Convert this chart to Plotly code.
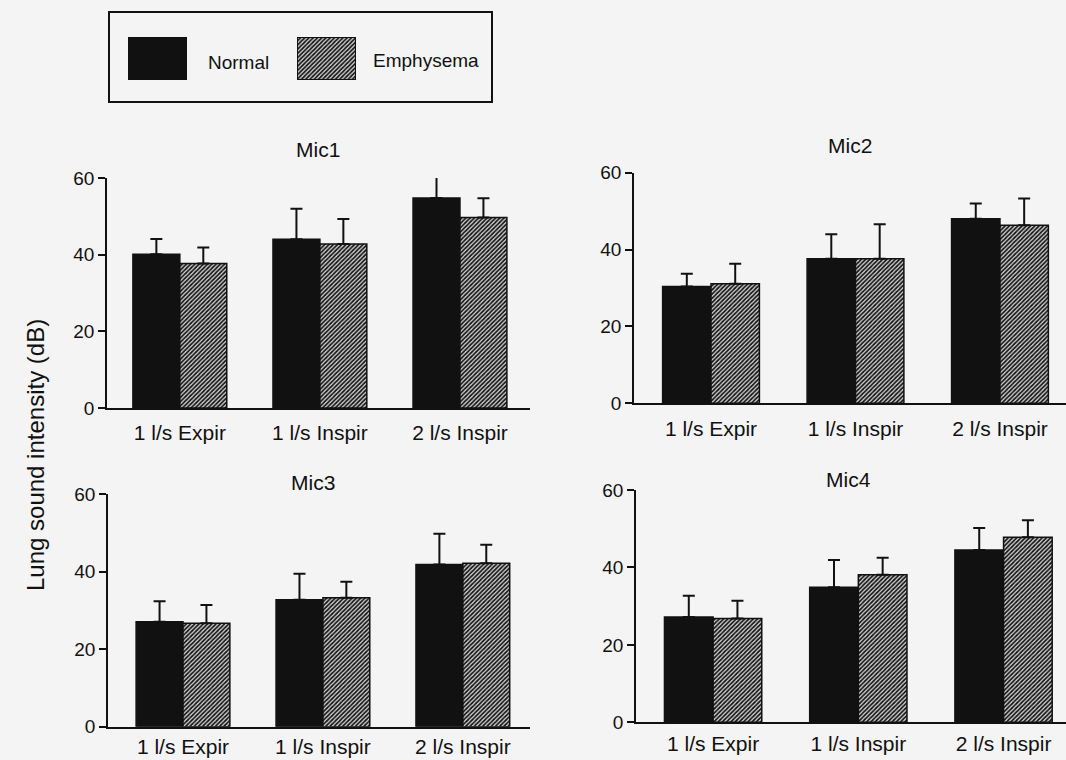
import plotly.graph_objects as go

W, H = 1066, 760

categories = ["1 l/s Expir", "1 l/s Inspir", "2 l/s Inspir"]
series = ["Normal", "Emphysema"]
panels = ["Mic1", "Mic2", "Mic3", "Mic4"]
y_ticks = [0, 20, 40, 60]

mic1_normal = [40.1, 44.0, 54.8]
mic1_normal_err = [4.0, 8.0, 6.1]
mic1_emph = [37.7, 42.8, 49.7]
mic1_emph_err = [4.2, 6.5, 5.0]

mic2_normal = [30.4, 37.6, 48.0]
mic2_normal_err = [3.3, 6.4, 4.0]
mic2_emph = [31.1, 37.6, 46.3]
mic2_emph_err = [5.2, 9.0, 7.0]

mic3_normal = [27.1, 32.8, 41.9]
mic3_normal_err = [5.3, 6.7, 7.9]
mic3_emph = [26.7, 33.3, 42.2]
mic3_emph_err = [4.7, 4.1, 4.8]

mic4_normal = [27.2, 34.9, 44.5]
mic4_normal_err = [5.5, 7.0, 5.7]
mic4_emph = [26.8, 38.1, 47.8]
mic4_emph_err = [4.6, 4.4, 4.4]

legend_swatch_value = [1]

data = [
    (mic1_normal, mic1_normal_err, mic1_emph, mic1_emph_err),
    (mic2_normal, mic2_normal_err, mic2_emph, mic2_emph_err),
    (mic3_normal, mic3_normal_err, mic3_emph, mic3_emph_err),
    (mic4_normal, mic4_normal_err, mic4_emph, mic4_emph_err),
]

# layout in pixels: (x_left, x_right, y_zero_px, y_sixty_px, x_range, label standoff)
panel_px = [
    (107, 530, 408, 178, [-0.52, 2.5], 5),
    (634, 1066, 403.3, 172.7, [-0.533, 2.457], 6),
    (108, 530, 726.7, 494.3, [-0.536, 2.48], 0),
    (636, 1066, 722.3, 490, [-0.531, 2.43], 2),
]
title_px = [(318, 149), (850, 145), (313, 482), (848, 479)]

FONT = "Liberation Sans, Arial, Helvetica, sans-serif"
BLACK = "#111111"
HBG = "#d4d4d4"
hatch = dict(shape="/", size=3, solidity=0.55, fgcolor="#111111", bgcolor=HBG)

fig = go.Figure()
xs = [0, 1, 2]

for i, (n, ne, e, ee) in enumerate(data):
    ax = "" if i == 0 else str(i + 1)
    fig.add_trace(go.Bar(
        x=xs, y=n, name=series[0], xaxis="x" + ax, yaxis="y" + ax,
        marker=dict(color=BLACK, line=dict(color=BLACK, width=1.5)),
        error_y=dict(type="data", symmetric=False, array=ne, arrayminus=[0, 0, 0],
                     color=BLACK, thickness=2, width=6),
        cliponaxis=False, showlegend=False, offsetgroup="n",
    ))
    fig.add_trace(go.Bar(
        x=xs, y=e, name=series[1], xaxis="x" + ax, yaxis="y" + ax,
        marker=dict(color=HBG, pattern=hatch, line=dict(color=BLACK, width=1.5)),
        error_y=dict(type="data", symmetric=False, array=ee, arrayminus=[0, 0, 0],
                     color=BLACK, thickness=2, width=6),
        cliponaxis=False, showlegend=False, offsetgroup="e",
    ))

layout = dict(
    template="none",
    width=W, height=H, autosize=False,
    margin=dict(l=0, r=0, t=0, b=0, pad=0),
    paper_bgcolor="#f4f4f4", plot_bgcolor="rgba(0,0,0,0)",
    barmode="group", bargap=0.33, bargroupgap=0,
    font=dict(family=FONT, color=BLACK, size=19),
    showlegend=False,
)

for i, (xl, xr, y0, y60, xr_range, standoff) in enumerate(panel_px):
    ax = "" if i == 0 else str(i + 1)
    layout["xaxis" + ax] = dict(
        domain=[xl / W, xr / W], range=xr_range, anchor="y" + ax, automargin=False,
        tickvals=xs, ticktext=categories, showgrid=False, zeroline=False,
        showline=True, linecolor=BLACK, linewidth=1.5, ticks="",
        ticklabelstandoff=standoff, tickfont=dict(size=21, family=FONT, color=BLACK),
        fixedrange=True,
    )
    layout["yaxis" + ax] = dict(
        domain=[1 - y0 / H, 1 - y60 / H], range=[0, 60], anchor="x" + ax, automargin=False,
        tickvals=y_ticks, showgrid=False, zeroline=False,
        showline=True, linecolor=BLACK, linewidth=1.5,
        ticks="outside", ticklen=7, tickwidth=1.5, tickcolor=BLACK,
        tickfont=dict(size=19, family=FONT, color=BLACK), fixedrange=True,
    )

# legend swatches as bars in their own small axes
sw = [(128, 187, series[0]), (297, 356, series[1])]
for j, (a, b, nm) in enumerate(sw):
    k = str(5 + j)
    marker = (dict(color=BLACK, line=dict(color=BLACK, width=1.5)) if j == 0 else
              dict(color=HBG, pattern=hatch, line=dict(color=BLACK, width=2)))
    fig.add_trace(go.Bar(x=[0], y=legend_swatch_value, width=[1], xaxis="x" + k, yaxis="y" + k,
                         marker=marker, showlegend=False, hoverinfo="skip", name=nm))
    layout["xaxis" + k] = dict(domain=[a / W, b / W], range=[-0.5, 0.5], visible=False,
                               anchor="y" + k, fixedrange=True, automargin=False)
    layout["yaxis" + k] = dict(domain=[1 - 80 / H, 1 - 37 / H], range=[0, 1], visible=False,
                               anchor="x" + k, fixedrange=True, automargin=False)

fig.update_layout(**layout)

annotations = []
for (tx, ty), t in zip(title_px, panels):
    annotations.append(dict(x=tx / W, y=1 - ty / H, xref="paper", yref="paper", text=t,
                            showarrow=False, font=dict(size=21, family=FONT, color=BLACK),
                            xanchor="center", yanchor="middle"))
annotations.append(dict(x=35 / W, y=1 - 455 / H, xref="paper", yref="paper",
                        text="Lung sound intensity (dB)", textangle=-90, showarrow=False,
                        font=dict(size=24, family=FONT, color=BLACK),
                        xanchor="center", yanchor="middle"))
annotations.append(dict(x=206 / W, y=1 - 62 / H, xref="paper", yref="paper", text=series[0],
                        showarrow=False, font=dict(size=19, family=FONT, color=BLACK),
                        xanchor="left", yanchor="middle"))
annotations.append(dict(x=371 / W, y=1 - 60 / H, xref="paper", yref="paper", text=series[1],
                        showarrow=False, font=dict(size=19, family=FONT, color=BLACK),
                        xanchor="left", yanchor="middle"))
fig.update_layout(annotations=annotations)

fig.add_shape(type="rect", xref="paper", yref="paper",
              x0=109 / W, x1=492 / W, y0=1 - 102 / H, y1=1 - 12 / H,
              line=dict(color=BLACK, width=2), fillcolor="rgba(0,0,0,0)")

fig.write_html(
    "out.html",
    config={"displayModeBar": False, "responsive": False},
    post_script="document.body.style.margin='0';document.body.style.overflow='hidden';",
)
